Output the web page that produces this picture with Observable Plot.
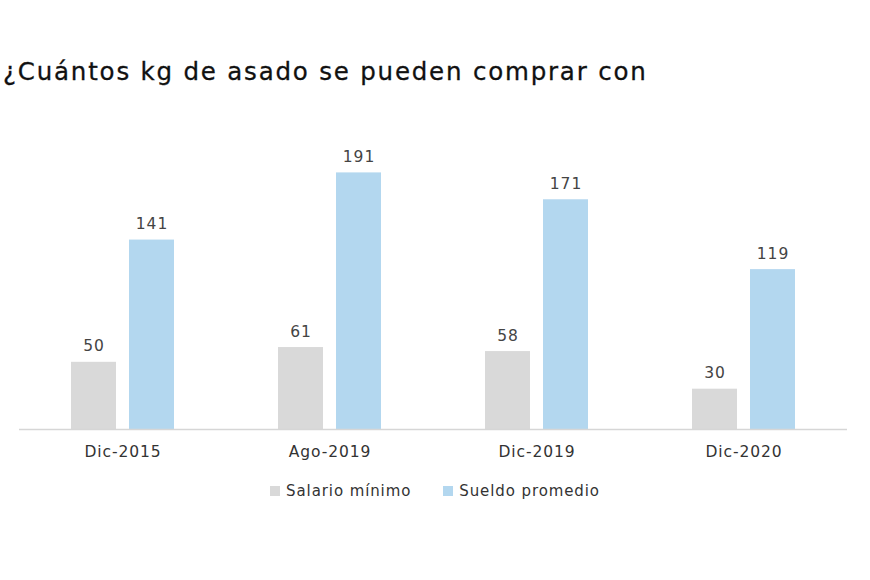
<!DOCTYPE html>
<html>
<head>
<meta charset="utf-8">
<script src="https://cdn.jsdelivr.net/npm/d3@7"></script>
<script src="https://cdn.jsdelivr.net/npm/@observablehq/plot@0.6"></script>
<style>
  html, body { margin: 0; padding: 0; background: #fff; width: 870px; height: 580px; overflow: hidden; }
  body { position: relative; font-family: "DejaVu Sans", sans-serif; }
  #title { position: absolute; left: 3px; top: 57px; font-size: 24.5px; font-weight: 500; color: #111; letter-spacing: 1.8px; white-space: nowrap; -webkit-text-stroke: 0.3px #111; }
  #chart { position: absolute; left: 0; top: 100px; }
  #legend { position: absolute; top: 482px; left: 0; width: 870px; display: flex; justify-content: center; gap: 32px; font-size: 15px; color: #333; letter-spacing: 0.9px; }
  #legend span.item { display: flex; align-items: center; gap: 6px; }
  #legend span.sw { display: inline-block; width: 10px; height: 10px; }
  #chart text { letter-spacing: 0.9px; }
</style>
</head>
<body>
<div id="title">¿Cuántos kg de asado se pueden comprar con</div>
<div id="chart"></div>
<div id="legend"></div>
<script>
const periods = ["Dic-2015", "Ago-2019", "Dic-2019", "Dic-2020"];
const seriesNames = ["Salario mínimo", "Sueldo promedio"];
const salarioMinimo = [50, 61, 58, 30];
const sueldoPromedio = [141, 191, 171, 119];
const colors = ["#d9d9d9", "#b3d7ef"];

const data = [];
periods.forEach((p, i) => {
  data.push({period: p, serie: seriesNames[0], value: salarioMinimo[i]});
  data.push({period: p, serie: seriesNames[1], value: sueldoPromedio[i]});
});

const plot = Plot.plot({
  width: 870,
  height: 370,
  marginLeft: 18,
  marginRight: 22,
  marginTop: 20,
  marginBottom: 41,
  style: { fontFamily: "'DejaVu Sans', sans-serif", fontSize: "15.5px", color: "#333", background: "#fff" },
  fx: { domain: periods, padding: 0, label: null, tickSize: 0, tickPadding: 16 },
  x: { domain: seriesNames, axis: null, paddingInner: 0.22, paddingOuter: 0.868 },
  y: { domain: [0, 230], axis: null },
  color: { domain: seriesNames, range: colors },
  marks: [
    Plot.barY(data, { fx: "period", x: "serie", y: "value", fill: "serie" }),
    Plot.ruleY([0], { stroke: "#d6d6d6", strokeWidth: 1.5 }),
    Plot.text(data, { fx: "period", x: "serie", y: "value", text: d => String(d.value), dy: -16, fill: "#444", fontSize: 15.5 })
  ]
});
document.getElementById("chart").appendChild(plot);

const legend = document.getElementById("legend");
seriesNames.forEach((s, i) => {
  const item = document.createElement("span");
  item.className = "item";
  const sw = document.createElement("span");
  sw.className = "sw";
  sw.style.background = colors[i];
  item.appendChild(sw);
  item.appendChild(document.createTextNode(s));
  legend.appendChild(item);
});
</script>
</body>
</html>
